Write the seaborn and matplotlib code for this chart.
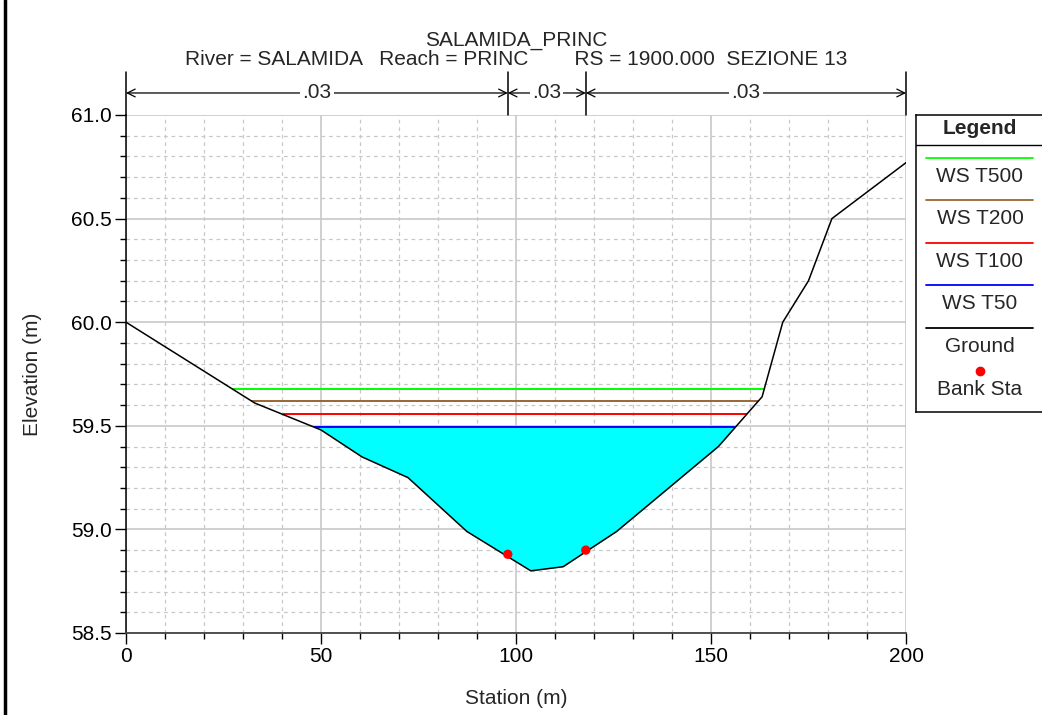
import numpy as np
import pandas as pd
import seaborn as sns
import matplotlib.pyplot as plt
from matplotlib.ticker import MultipleLocator, FormatStrFormatter
from matplotlib.lines import Line2D

# ground profile (station, elevation)
ground_x = [0, 33, 50, 60.5, 72.3, 87.4, 103.8, 112.1, 125.8, 151.9, 163.1, 168.4, 175, 181, 200]
ground_y = [60.0, 59.61, 59.48, 59.35, 59.25, 58.99, 58.80, 58.82, 58.99, 59.40, 59.64, 60.0, 60.2, 60.5, 60.77]

# bank stations
bank_x = [97.9, 117.9]
bank_y = [58.88, 58.90]

# water surfaces
ws_names = ['WS T500', 'WS T200', 'WS T100', 'WS T50']
ws_elev = [59.68, 59.62, 59.555, 59.493]
ws_colors = ['#00ff00', '#996633', '#ff0000', '#0000ff']

# manning's n
n_values = ['.03', '.03', '.03']

sns.set_style('white')
plt.rcParams['font.family'] = ['Liberation Sans', 'DejaVu Sans']
FS = 15

ground = pd.DataFrame({'Station': ground_x, 'Elevation': ground_y})
gx = np.array(ground_x)
gy = np.array(ground_y)
imin = int(np.argmin(gy))


def wet_extent(level):
    xl = np.interp(level, gy[:imin + 1][::-1], gx[:imin + 1][::-1])
    xr = np.interp(level, gy[imin:], gx[imin:])
    return xl, xr


fig = plt.figure(figsize=(10.42, 7.15), dpi=100)
ax = fig.add_axes([126 / 1042, 1 - 633 / 715, 780 / 1042, 518 / 715])

# water fill for lowest profile
ax.fill_between(gx, gy, ws_elev[-1], where=gy <= ws_elev[-1], interpolate=True,
                color='#00ffff', lw=0, zorder=2)

for name, lev, col in zip(ws_names, ws_elev, ws_colors):
    xl, xr = wet_extent(lev)
    ax.hlines(lev, xl, xr, color=col, lw=1.4, zorder=3)

sns.lineplot(data=ground, x='Station', y='Elevation', sort=False, color='black',
             lw=1.1, ax=ax, zorder=4)
sns.scatterplot(x=bank_x, y=bank_y, color='red', s=45, edgecolor='none', ax=ax, zorder=5)

ax.set_xlim(0, 200)
ax.set_ylim(58.5, 61.0)
ax.xaxis.set_major_locator(MultipleLocator(50))
ax.xaxis.set_minor_locator(MultipleLocator(10))
ax.yaxis.set_major_locator(MultipleLocator(0.5))
ax.yaxis.set_minor_locator(MultipleLocator(0.1))
ax.yaxis.set_major_formatter(FormatStrFormatter('%.1f'))
ax.grid(which='major', color='#c8c8c8', lw=1.2, ls='-', zorder=0)
ax.grid(which='minor', color='#c8c8c8', lw=0.9, ls=(0, (3, 3)), zorder=0)
ax.set_axisbelow(True)

ax.tick_params(which='both', direction='out', bottom=True, left=True, colors='black',
               labelsize=FS, width=1)
ax.tick_params(which='major', length=8, pad=2)
ax.tick_params(which='minor', length=4.5)
for s in ['top', 'right']:
    ax.spines[s].set_visible(False)
ax.spines['left'].set_color('black')
ax.spines['bottom'].set_color('#444444')
ax.spines['left'].set_linewidth(1.1)
ax.spines['bottom'].set_linewidth(1.3)

ax.set_xlabel('Station (m)', fontsize=FS, labelpad=17)
ax.set_ylabel('Elevation (m)', fontsize=FS, labelpad=21)

# title
ax.text(0.5, (633 - 40) / 518, 'SALAMIDA_PRINC', transform=ax.transAxes, ha='center',
        va='center', fontsize=FS)
ax.text(0.5, (633 - 59.5) / 518,
        'River = SALAMIDA   Reach = PRINC        RS = 1900.000  SEZIONE 13',
        transform=ax.transAxes, ha='center', va='center', fontsize=FS)

# manning's n annotation
tr = ax.get_xaxis_transform()
bounds = [0] + bank_x + [200]
for xb in bounds:
    ax.plot([xb, xb], [1.0, 1.083], transform=tr, color='black', lw=1.1, clip_on=False)
for i, nv in enumerate(n_values):
    x0, x1 = bounds[i], bounds[i + 1]
    ax.annotate('', xy=(x0, 1.0425), xytext=(x1, 1.0425), xycoords=tr, textcoords=tr,
                arrowprops=dict(arrowstyle='<->', color='black', lw=0.9,
                                shrinkA=0, shrinkB=0, mutation_scale=14),
                annotation_clip=False)
    ax.text((x0 + x1) / 2, 1.0425, nv, transform=tr, ha='center', va='center',
            fontsize=FS, bbox=dict(facecolor='white', edgecolor='none', pad=1.5))

# legend panel
lax = fig.add_axes([916 / 1042, 1 - 412 / 715, 140 / 1042, 297 / 715])
lax.set_xlim(0, 140)
lax.set_ylim(297, 0)
lax.set_xticks([])
lax.set_yticks([])
for s in lax.spines.values():
    s.set_color('black')
    s.set_linewidth(1.1)
lax.text(64, 13.5, 'Legend', ha='center', va='center', fontsize=FS, fontweight='bold')
lax.plot([0, 140], [29.5, 29.5], color='black', lw=1)
leg_lines = [42.7, 85, 127.7, 170]
leg_text = [61, 103.3, 146.7, 188.3]
for name, col, yl, yt in zip(ws_names, ws_colors, leg_lines, leg_text):
    lax.plot([10, 117], [yl, yl], color=col, lw=1.3)
    lax.text(64, yt, name, ha='center', va='center', fontsize=FS)
lax.plot([10, 117], [213.3, 213.3], color='black', lw=1.3)
lax.text(64, 231.7, 'Ground', ha='center', va='center', fontsize=FS)
lax.plot([64], [255.7], 'o', color='red', ms=6)
lax.text(64, 274.3, 'Bank Sta', ha='center', va='center', fontsize=FS)

# outer frame edge on the left
fig.add_artist(Line2D([4.5 / 1042, 4.5 / 1042], [0, 1], color='black', lw=2.5))

fig.savefig('out.png', dpi=100)
